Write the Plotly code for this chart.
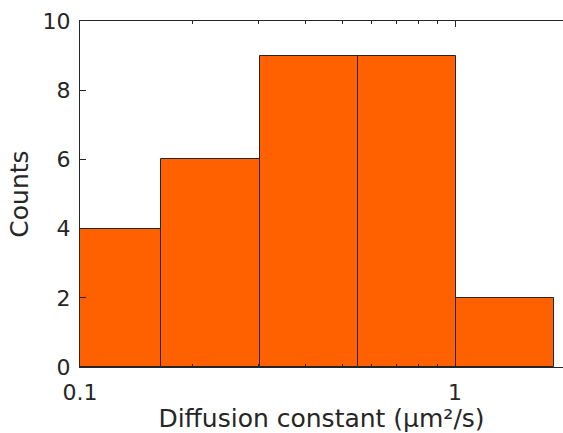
import numpy as np
import plotly.graph_objects as go

# Histogram bin edges (log-spaced) and counts
bin_edges = [0.0901, 0.1648, 0.3013, 0.5508, 1.0071, 1.8413]
counts = [4, 6, 9, 9, 2]
x_tick_vals = [0.1, 1]
x_tick_text = ["0.1", "1"]
y_tick_vals = [0, 2, 4, 6, 8, 10]
minor_x = [0.2, 0.3, 0.4, 0.5, 0.6, 0.7, 0.8, 0.9, 2]

lo = np.array(bin_edges[:-1])
hi = np.array(bin_edges[1:])

fig = go.Figure()
fig.add_trace(go.Bar(
    x=lo, y=counts, width=hi - lo, offset=0,
    marker=dict(color="#FF6000", line=dict(color="#262626", width=1)),
))

axis_color = "#262626"
font_family = "DejaVu Sans"
fig.update_layout(
    width=563, height=433,
    margin=dict(l=80, r=0, t=21, b=66),
    plot_bgcolor="white", paper_bgcolor="white",
    showlegend=False,
    bargap=0,
    font=dict(family=font_family, color=axis_color, size=22),
    xaxis=dict(
        type="log", range=[-1, np.log10(1.94)],
        tickvals=x_tick_vals, ticktext=x_tick_text,
        ticks="inside", ticklen=6, tickcolor=axis_color,
        ticklabelstandoff=6,
        showline=True, linecolor=axis_color, linewidth=1, mirror="ticks",
        showgrid=False, zeroline=False,
        minor=dict(tickvals=minor_x, ticks="inside", ticklen=3, tickcolor=axis_color),
        title=dict(text="Diffusion constant (μm²/s)", font=dict(size=25), standoff=6),
        tickfont=dict(size=22),
    ),
    yaxis=dict(
        range=[0, 10], tickvals=y_tick_vals,
        ticks="inside", ticklen=6, tickcolor=axis_color,
        ticklabelstandoff=4,
        showline=True, linecolor=axis_color, linewidth=1,
        showgrid=False, zeroline=False,
        title=dict(text="Counts", font=dict(size=25), standoff=6),
        tickfont=dict(size=22),
    ),
)

fig.write_html("out.html")
